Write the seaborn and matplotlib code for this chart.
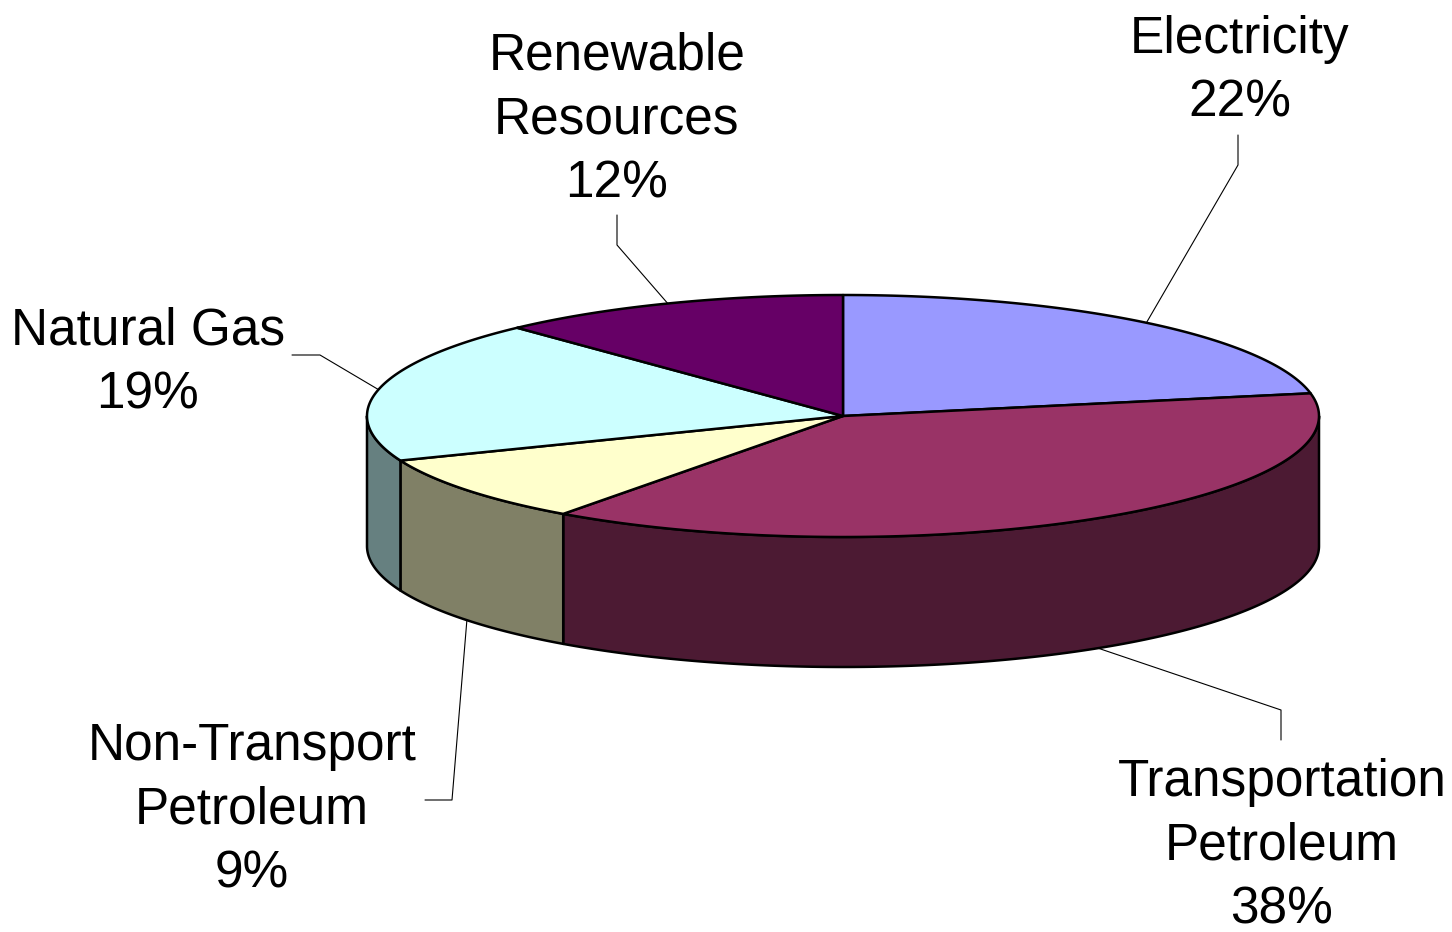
import numpy as np
import matplotlib
matplotlib.use("Agg")
import matplotlib.pyplot as plt
from matplotlib.patches import Polygon
import seaborn as sns

# ---- data ----
categories = ["Electricity", "Transportation\nPetroleum", "Non-Transport\nPetroleum",
              "Natural Gas", "Renewable\nResources"]
shares = [22, 38, 9, 19, 12]
top_colors = ["#9999FF", "#993366", "#FFFFCC", "#CCFFFF", "#660066"]
side_colors = ["#4C4C80", "#4C1A33", "#808066", "#668080", "#330033"]

# label layout: (text centre x, text centre y, elbow x, elbow y, leader start x, leader start y)
label_pos = [
    (1240, 71, 1238, 165, 1238, 135),
    (1282, 846, 1281, 710, 1281, 740),
    (252, 810, 452, 800, 425, 800),
    (148, 363, 320, 355, 292, 355),
    (617, 120, 617, 245, 617, 215),
]

sns.set_theme(style="white")
plt.rcParams["font.family"] = ["Liberation Sans", "DejaVu Sans"]

fig = plt.figure(figsize=(14.52, 9.32), dpi=100)
ax = fig.add_axes([0, 0, 1, 1])
ax.set_xlim(0, 1452)
ax.set_ylim(932, 0)
ax.axis("off")

cx, cy, rx, ry, depth = 843, 416, 476, 121, 130
lw = 1.8


def pt(t, dy=0.0):
    r = np.deg2rad(t)
    return cx + rx * np.cos(r), cy - ry * np.sin(r) + dy


# slice angles, clockwise from 12 o'clock
total = float(sum(shares))
bounds = [90.0]
for s in shares:
    bounds.append(bounds[-1] - 360.0 * s / total)

# walls (front half only: angles in [-180, 0])
for i in range(len(shares)):
    a0, a1 = bounds[i], bounds[i + 1]  # a0 > a1
    for off in (0.0, -360.0, 360.0):
        lo = max(a1 + off, -180.0)
        hi = min(a0 + off, 0.0)
        if hi > lo:
            ts = np.linspace(lo, hi, 200)
            xs, ys = pt(ts)
            xb, yb = pt(ts[::-1], depth)
            verts = np.column_stack([np.concatenate([xs, xb]), np.concatenate([ys, yb])])
            ax.add_patch(Polygon(verts, closed=True, facecolor=side_colors[i],
                                 edgecolor="black", linewidth=lw, joinstyle="round", zorder=2))

# top faces
for i in range(len(shares)):
    a0, a1 = bounds[i], bounds[i + 1]
    ts = np.linspace(a0, a1, 300)
    xs, ys = pt(ts)
    verts = np.column_stack([np.concatenate([[cx], xs]), np.concatenate([[cy], ys])])
    ax.add_patch(Polygon(verts, closed=True, facecolor=top_colors[i],
                         edgecolor="black", linewidth=lw, joinstyle="round", zorder=3))

# labels and leader lines
for i, (cat, s) in enumerate(zip(categories, shares)):
    mid = (bounds[i] + bounds[i + 1]) / 2.0
    m = ((mid + 180) % 360) - 180
    if -180 < m < 0:
        ax_, ay_ = pt(mid, depth)
    else:
        ax_, ay_ = pt(mid)
    tx, ty, ex, ey, sx, sy = label_pos[i]
    ax.plot([sx, ex, ax_], [sy, ey, ay_], color="black", linewidth=0.8, zorder=4)
    ax.text(tx, ty, f"{cat}\n{s}%", ha="center", va="center", fontsize=37,
            linespacing=1.39, color="black", zorder=5)

fig.savefig("out.png", dpi=100, facecolor="white")
